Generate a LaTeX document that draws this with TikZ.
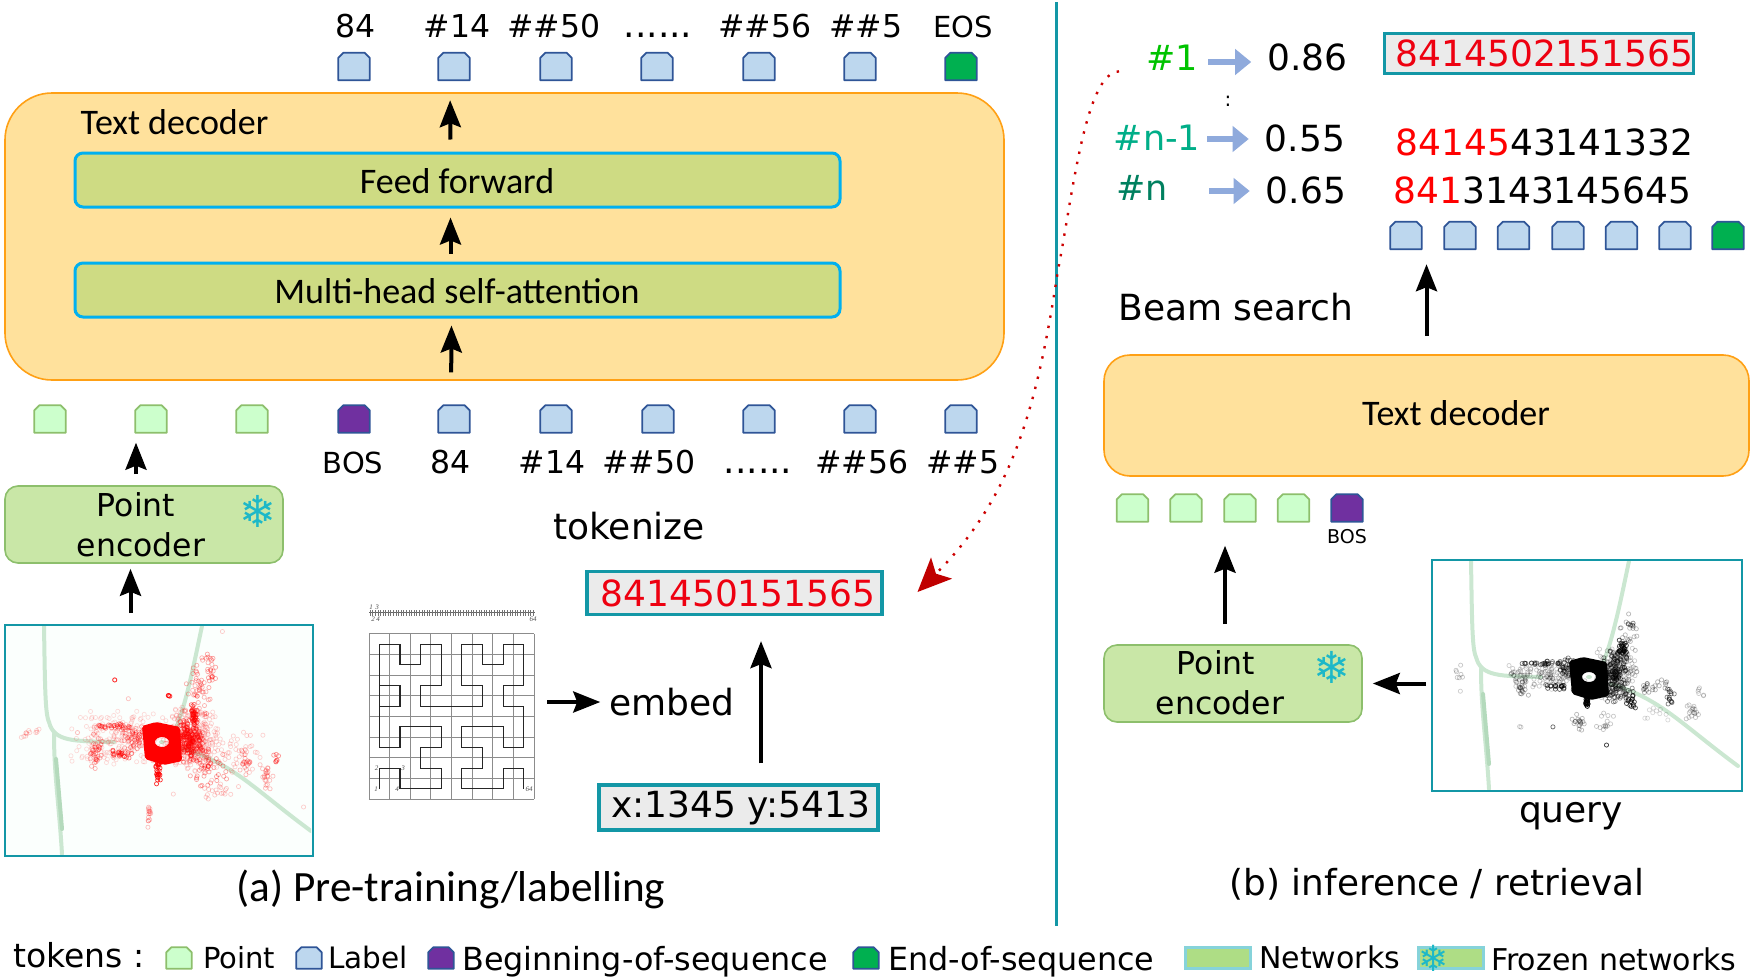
\documentclass[tikz,border=0pt]{standalone}
\usepackage{fontspec}
\setmainfont{DejaVu Sans}
\newfontfamily\carlito{Carlito}
\newfontfamily\tinyserif{Liberation Serif}
\usetikzlibrary{arrows.meta}

\definecolor{tealline}{HTML}{1397A6}
\definecolor{snowcol}{HTML}{1DB8C8}
\definecolor{decfill}{HTML}{FFE19C}
\definecolor{decline}{HTML}{FFA015}
\definecolor{netfill}{HTML}{CEDB83}
\definecolor{netline}{HTML}{00B0F0}
\definecolor{encfill}{HTML}{C9E7A7}
\definecolor{encline}{HTML}{8DBF6C}
\definecolor{ptfill}{HTML}{CCFFCC}
\definecolor{lblfill}{HTML}{BDD7EE}
\definecolor{tokline}{HTML}{2F5597}
\definecolor{bosfill}{HTML}{7030A0}
\definecolor{eosfill}{HTML}{00B050}
\definecolor{boxgrey}{HTML}{EBEBEB}
\definecolor{seqred}{HTML}{EE0010}
\definecolor{tailred}{HTML}{C00000}
\definecolor{bluearrow}{HTML}{8FAADC}
\definecolor{trackgreen}{HTML}{CBE7D1}
\definecolor{trackdark}{HTML}{B4DABC}
\definecolor{swatchfill}{HTML}{AEDD85}
\definecolor{swatchline}{HTML}{86D3DA}
\definecolor{imgpale}{HTML}{FBFFFD}

\newcommand{\sixdots}{{\fontsize{36}{36}\selectfont ......}}
\newcommand{\capsfont}{\fontsize{29}{31}\selectfont}

\tikzset{
	tokbase/.style 2 args={rectangle,minimum width=31pt,minimum height=27pt,inner sep=0pt,
		append after command={\pgfextra{\draw[fill=#1,draw=#2,line width=1.8pt,line join=round]
			(\tikzlastnode.south west) -- ([yshift=-5pt]\tikzlastnode.north west) -- ([xshift=5pt]\tikzlastnode.north west)
			-- ([xshift=-5pt]\tikzlastnode.north east) -- ([yshift=-5pt]\tikzlastnode.north east) -- (\tikzlastnode.south east) -- cycle;}}},
	tokpoint/.style={tokbase={ptfill}{encline}},
	toklabel/.style={tokbase={lblfill}{tokline}},
	tokbos/.style={tokbase={bosfill}{tokline}},
	tokeos/.style={tokbase={eosfill}{tokline}},
	legendtok/.style={minimum width=25pt,minimum height=21pt},
	txtbig/.style={inner sep=0pt,font=\fontsize{36}{38}\selectfont},
	txtmid/.style={inner sep=0pt,font=\fontsize{31.5}{33}\selectfont},
	txthash/.style={inner sep=0pt,font=\fontsize{35}{37}\selectfont},
	txtleg/.style={inner sep=0pt,anchor=base west,font=\fontsize{31.8}{34}\selectfont},
	txtlegs/.style={inner sep=0pt,anchor=base west,font=\fontsize{30}{32}\selectfont},
	txtcar/.style={inner sep=0pt,font=\carlito\fontsize{36}{38}\selectfont},
	txttiny/.style={inner sep=0pt,font=\tinyserif\itshape\fontsize{7}{7}\selectfont,text=black!70},
	snowflake/.style={inner sep=0pt,text=snowcol,font=\bfseries\fontsize{44}{44}\selectfont},
	decbox/.style={draw=decline,fill=decfill,line width=1.6pt,rounded corners=#1},
	netbox/.style={draw=netline,fill=netfill,line width=3pt,rounded corners=8pt,anchor=center},
	encbox/.style={draw=encline,fill=encfill,line width=1.6pt,rounded corners=13pt},
	seqbox/.style={draw=tealline,fill=boxgrey,line width=3.2pt,inner sep=0pt,font=\fontsize{36}{38}\selectfont},
	imgbox/.style={draw=tealline,line width=2pt,minimum width=308pt,minimum height=231pt,inner sep=0pt},
	swatch/.style={draw=swatchline,fill=swatchfill,line width=3pt,minimum width=65pt,minimum height=21pt,inner sep=0pt},
	blackarr/.style={-{Stealth[length=27pt,width=21pt,inset=4pt]},line width=4pt,black},
	bluearr/.style={-{Triangle[length=16pt,width=25pt]},line width=6.5pt,bluearrow,shorten >=16pt},
	track/.style={trackgreen,line width=4pt,line cap=round}
}

% road tracks, the dense centre and the clusters of small circles of one query
\newcommand{\drawscene}[3]{
	\pgfmathsetseed{#3}
	\draw[track] (40,2) .. controls (41,60) and (41,90) .. (45,98) .. controls (50,118) and (70,117) .. (110,118);
	\draw[track] (50,110) .. controls (50,150) and (55,180) .. (58,230);
	\draw[track,trackdark] (52,135) -- (58,205);
	\draw[track] (198,2) .. controls (190,40) and (182,80) .. (172,104);
	\draw[track] (180,125) .. controls (230,140) and (250,165) .. (307,207);
	\fill[#1,even odd rule,rounded corners=2pt] (138,102) -- (152,98) -- (176,103) -- (178,137) -- (160,141) -- (141,135) -- cycle
		(158,118) ellipse (7pt and 5pt);
	\fill[trackgreen] (158,118) ellipse (3pt and 2pt);
	\foreach \cx/\cy/\sx/\sy/\cnt/\op in {#2}{
		\foreach \k in {1,...,\cnt}{
			\pgfmathsetmacro\px{\cx+\sx*(rand+rand)/2}
			\pgfmathsetmacro\py{\cy+\sy*(rand+rand)/2}
			\draw[#1,opacity=\op,line width=.7pt] (\px,\py) circle (2.1pt);
		}
	}
}

\begin{document}
\begin{tikzpicture}[x=1pt,y=-1pt]
	\useasboundingbox (0,0) rectangle (1755,977);

	% the divider
	\coordinate (divtop) at (1056.5,2);
	\coordinate (divbot) at (1056.5,926);
	\draw[tealline,line width=3pt] (divtop) -- (divbot);

	% ---------- part (a): text decoder
	\node[decbox=47pt,minimum width=999pt,minimum height=287pt] (decA) at (504.5,236.5) {};
	\node[txtcar] (decAlabel) at (174.5,122) {Text decoder};
	\node[netbox,minimum width=765pt,minimum height=54pt] (ffA) at (457.5,180) {};
	\node[txtcar] (ffAlabel) at (457,181) {Feed forward};
	\node[netbox,minimum width=765pt,minimum height=54pt] (msaA) at (457.5,290) {};
	\node[txtcar] (msaAlabel) at (457,291) {Multi-head self-attention};

	% tokens on top of the decoder
	\foreach \x/\i in {354/1,454/2,556/3,657/4,759/5,860/6}{
		\node[toklabel] (tokT\i) at (\x,66.5) {};
	}
	\node[tokeos] (tokT7) at (961,66.5) {};
	\foreach \x/\t/\i in {356/84/1,457/\#14/2,554/\#\#50/3,658/\sixdots/4,765/\#\#56/5,866/\#\#5/6,963/{\capsfont EOS}/7}{
		\node[txtmid,anchor=base] (capT\i) at (\x,37) {\t};
	}

	% tokens under the decoder
	\foreach \x/\i in {50/1,151/2,252/3}{
		\node[tokpoint] (tokP\i) at (\x,419) {};
	}
	\node[tokbos] (tokBosA) at (354,419) {};
	\foreach \x/\i in {454/1,556/2,658/3,759/4,860/5,961/6}{
		\node[toklabel] (tokL\i) at (\x,419) {};
	}
	\foreach \x/\t/\i in {353/{\capsfont BOS}/0,451/84/1,552/\#14/2,649/\#\#50/3,758/\sixdots/4,862/\#\#56/5,963/\#\#5/6}{
		\node[txtmid,anchor=base] (capL\i) at (\x,473) {\t};
	}

	% point encoder and query picture
	\node[encbox,minimum width=278pt,minimum height=77pt] (encA) at (144,524.5) {};
	\node[txtmid,anchor=base,align=center,font=\fontsize{31.5}{40}\selectfont] (encAlabel) at (141,556) {Point\hspace*{10pt}\\encoder};
	\node[snowflake] (snowA) at (258,511) {\char"2744};
	\node[imgbox,fill=imgpale] (imgA) at (159,740.5) {};
	\begin{scope}[shift={(imgA.north west)}]
		\clip (1,1) rectangle (307,230);
		\drawscene{red}{186/115/30/34/420/.16,117/115/56/30/200/.14,186/116/14/24/170/.4,130/112/14/14/50/.3,95/102/6/3/8/.25,112/102/20/3/26/.4,92/127/8/18/36/.3,117/130/14/5/20/.5,
			195/62/14/38/50/.3,206/42/8/26/18/.35,190/90/4/12/36/.55,203/141/24/24/50/.35,230/130/32/24/50/.18,242/140/8/16/18/.28,263/153/10/16/22/.25,
			272/135/4/10/7/.4,145/192/3/16/14/.25,154/148/3/14/24/.8,27/110/12/6/12/.18,110/56/1/1/2/.6,124/75/1/1/1/.25,165/72/3/2/4/.7,218/7/1/1/1/.2,
			299/183/1/1/1/.2,169/170/1/1/1/.2,215/165/24/12/20/.2}{41}
	\end{scope}
	\node[imgbox] (imgAframe) at (imgA) {};

	% hilbert curve and its one dimensional line
	\node[minimum width=165pt,minimum height=165pt,inner sep=0pt] (hilb) at (451.5,716.5) {};
	\begin{scope}[shift={(379.3,788.8)},x=20.65pt,y=20.65pt]
		\foreach \v in {-0.5,...,7.5}{
			\draw[black!45,line width=.9pt] (\v,-0.5) -- (\v,7.5);
			\draw[black!45,line width=.9pt] (-0.5,\v) -- (7.5,\v);
		}
		\draw[black!85,line width=1.1pt] (0,0) -- (0,1) -- (1,1) -- (1,0) -- (3,0) -- (3,1) -- (2,1) -- (2,2) -- (3,2) -- (3,3) -- (1,3) -- (1,2) -- (0,2) -- (0,5)
			-- (1,5) -- (1,4) -- (0,4) ;
		\draw[black!85,line width=1.1pt] (0,4) -- (0,7) -- (1,7) -- (1,6) -- (2,6) -- (2,7) -- (3,7) -- (3,5) -- (2,5) -- (2,4) -- (5,4) -- (5,5) -- (4,5) -- (4,7) -- (5,7) -- (5,6)
			-- (6,6) -- (6,7) -- (7,7) -- (7,5) -- (6,5) -- (6,4) -- (7,4) -- (7,2) -- (6,2) -- (6,3) -- (4,3) -- (4,2) -- (5,2) -- (5,1) -- (4,1) -- (4,0) -- (6,0) -- (6,1) -- (7,1) -- (7,0);
	\end{scope}
	\node[txttiny] (hil1) at (376,789) {1};
	\node[txttiny] (hil2) at (376.5,768) {2};
	\node[txttiny] (hil3) at (403,768) {3};
	\node[txttiny] (hil4) at (397,789) {4};
	\node[txttiny] (hil64) at (529,789) {64};
	\coordinate (linestart) at (369,612.7);
	\coordinate (lineend) at (535,612.7);
	\draw[black!60,line width=.8pt] (linestart) -- (lineend);
	\foreach \k in {0,...,63}{
		\draw[black!55,line width=.5pt] (370+2.59*\k,610) -- (370+2.59*\k,615.5);
	}
	\node[txttiny] (lin1) at (371,607) {1};
	\node[txttiny] (lin3) at (377,607) {3};
	\node[txttiny] (lin2) at (373,619) {2};
	\node[txttiny] (lin4) at (378,619) {4};
	\node[txttiny] (lin64) at (533,619) {64};

	\node[txtbig] (tokenize) at (629,526) {tokenize};
	\node[seqbox,minimum width=295pt,minimum height=43pt,text=seqred] (seqA) at (734.5,593) {\hspace*{7pt}841450151565};
	\node[txtbig] (embed) at (672,702) {embed};
	\node[seqbox,minimum width=279pt,minimum height=45pt] (xyA) at (738.5,807.5) {\hspace*{4pt}x:1345 y:5413};
	\node[txtcar,font=\carlito\fontsize{43.2}{45}\selectfont] (capA) at (451,889) {(a) Pre-training/labelling};

	% arrows of part (a)
	\draw[blackarr,shorten <=33pt,shorten >=7pt] ([xshift=-3pt]tokL1.north) -- ([xshift=-6pt]msaA.south);
	\draw[blackarr,shorten <=8pt,shorten >=9pt] ([xshift=-7pt]msaA.north) -- ([xshift=-7pt]ffA.south);
	\draw[blackarr,shorten <=12pt,shorten >=20pt] ([xshift=-7pt]ffA.north) -- ([xshift=-4pt]tokT2.south);
	\draw[blackarr,shorten <=11pt,shorten >=10pt] ([xshift=-8pt]encA.north) -- ([xshift=-15pt]tokP2.south);
	\draw[blackarr,shorten <=11pt,shorten >=5pt] ([xshift=-28.5pt]imgA.north) -- ([xshift=-13.5pt]encA.south);
	\draw[blackarr,shorten <=13pt,shorten >=9pt] (hilb.east |- embed.west) -- (embed.west);
	\draw[blackarr,shorten <=20pt,shorten >=25pt] ([xshift=22.5pt]xyA.north) -- ([xshift=26.5pt]seqA.south);

	% ---------- part (b): results of the beam search
	\node[txthash,text=black!10!green!85!black] (hashA) at (1172,58) {\#1};
	\node[txthash,text={rgb,255:red,0;green,174;blue,136}] (hashB) at (1157,138) {\#n-1};
	\node[txthash,text={rgb,255:red,0;green,128;blue,95}] (hashC) at (1142,188) {\#n};
	\node[inner sep=0pt,font=\fontsize{20}{20}\selectfont] (hashdots) at (1228,101) {:};
	\node[txtbig] (scoreA) at (1307.5,57) {0.86};
	\node[txtbig] (scoreB) at (1305,138) {0.55};
	\node[txtbig] (scoreC) at (1306,190) {0.65};
	\coordinate (hashAend) at (1208,62);
	\coordinate (hashBend) at (1207,139);
	\coordinate (hashCend) at (1209,191);
	\draw[bluearr] (hashAend) -- ([yshift=-5pt]scoreA.west);
	\draw[bluearr] (hashBend) -- ([yshift=-1pt]scoreB.west);
	\draw[bluearr] (hashCend) -- ([yshift=-1pt]scoreC.west);
	\node[seqbox,minimum width=307pt,minimum height=40pt,text=seqred] (seqBa) at (1539,53.5) {\hspace*{11pt}8414502151565};
	\node[txtbig] (seqBb) at (1544.5,142) {\textcolor{red}{84145}43141332};
	\node[txtbig] (seqBc) at (1542.5,190) {\textcolor{red}{841}3143145645};
	\foreach \x/\i in {1406/1,1460/2,1513.5/3,1568/4,1621.5/5,1675/6}{
		\node[toklabel] (tokR\i) at (\x,235.5) {};
	}
	\node[tokeos] (tokR7) at (1728,235.5) {};
	\node[txtbig] (beam) at (1236,307) {Beam search};

	% text decoder of part (b)
	\node[decbox=26pt,minimum width=645pt,minimum height=121pt] (decB) at (1426.5,415.5) {};
	\node[txtcar] (decBlabel) at (1456,413) {Text decoder};
	\foreach \x/\i in {1132.5/1,1186/2,1240/3,1293.5/4}{
		\node[tokpoint] (tokQ\i) at (\x,508) {};
	}
	\node[tokbos] (tokBosB) at (1347,508) {};
	\node[inner sep=0pt,font=\fontsize{19}{21}\selectfont] (capBosB) at (1347,537) {BOS};
	\node[encbox,minimum width=258pt,minimum height=77pt] (encB) at (1233,683.5) {};
	\node[txtmid,anchor=base,align=center,font=\fontsize{31.5}{40}\selectfont] (encBlabel) at (1220,714) {Point\hspace*{8pt}\\encoder};
	\node[snowflake] (snowB) at (1331.5,667) {\char"2744};
	\node[imgbox,minimum width=310pt] (imgB) at (1587,675.5) {};
	\begin{scope}[shift={(imgB.north west)}]
		\clip (1,1) rectangle (309,230);
		\drawscene{black}{184/113/24/30/240/.2,118/117/46/14/120/.2,184/113/14/22/100/.5,135/108/12/12/30/.5,110/104/22/3/30/.5,90/118/12/14/24/.22,130/128/18/4/18/.6,191/90/5/10/28/.7,198/72/10/22/20/.28,
			200/65/4/4/4/.5,148/163/8/9/18/.28,174/163/10/14/14/.22,91/168/3/1/2/.2,122/168/1/1/1/.6,175/186/1/1/1/.8,263/153/10/10/18/.22,271/133/5/7/6/.2,
			240/138/6/10/14/.5,28/112/5/8/7/.22,30/132/1/1/1/.2,156/143/2/8/16/1,201/143/6/10/14/.7,224/127/16/10/22/.3,91/130/8/10/16/.3,225/156/16/8/10/.15,
			185/135/20/12/40/.45}{7}
	\end{scope}
	\node[imgbox,minimum width=310pt] (imgBframe) at (imgB) {};
	\node[txtbig] (query) at (1571,816) {query};
	\node[txtbig,font=\fontsize{35.8}{38}\selectfont] (capB) at (1437,884) {(b) inference / retrieval};

	% arrows of part (b)
	\draw[blackarr,shorten <=18pt,shorten >=15pt] (decB.north) -- (decB.north |- tokR1.south);
	\draw[blackarr,shorten <=20pt,shorten >=24pt] ([xshift=-8pt]encB.north) -- ([xshift=-15pt]tokQ3.south);
	\draw[blackarr,shorten <=5pt,shorten >=10pt] (imgB.west |- encB.east) -- (encB.east);

	% the dotted link back to the labelled sequence
	\coordinate (linktip) at (917.5,592);
	\draw[red!80!black,line width=2.4pt,dash pattern=on 2.4pt off 8pt,shorten <=27pt,
		-{Stealth[length=34pt,width=30pt,inset=8pt,color=tailred,line width=0pt]}]
		(hashA.south west) .. controls (1085,72) and (1072,200) .. (1058,270) .. controls (1038,400) and (1015,495) .. (linktip);

	% ---------- legend
	\node[txtleg,font=\fontsize{33}{35}\selectfont] (legtok) at (13,967) {tokens :};
	\node[tokpoint,legendtok] (legpt) at (179,958) {};
	\node[txtlegs,font=\fontsize{29}{31}\selectfont] (legpttxt) at (203,968) {Point};
	\node[toklabel,legendtok] (leglb) at (309,958) {};
	\node[txtlegs,font=\fontsize{29.5}{31}\selectfont] (leglbtxt) at (328,968) {Label};
	\node[tokbos,legendtok] (legbos) at (441,958) {};
	\node[txtleg] (legbostxt) at (462,970) {Beginning-of-sequence};
	\node[tokeos,legendtok] (legeos) at (866,958) {};
	\node[txtleg] (legeostxt) at (888,970) {End-of-sequence};
	\node[swatch] (legnet) at (1217.5,958) {};
	\node[txtlegs] (legnettxt) at (1259,968) {Networks};
	\node[swatch] (legfrz) at (1451,958) {};
	\node[snowflake,font=\bfseries\fontsize{36}{36}\selectfont] (legsnow) at (1434,958) {\char"2744};
	\node[txtlegs] (legfrztxt) at (1491,970) {Frozen networks};
\end{tikzpicture}
\end{document}
